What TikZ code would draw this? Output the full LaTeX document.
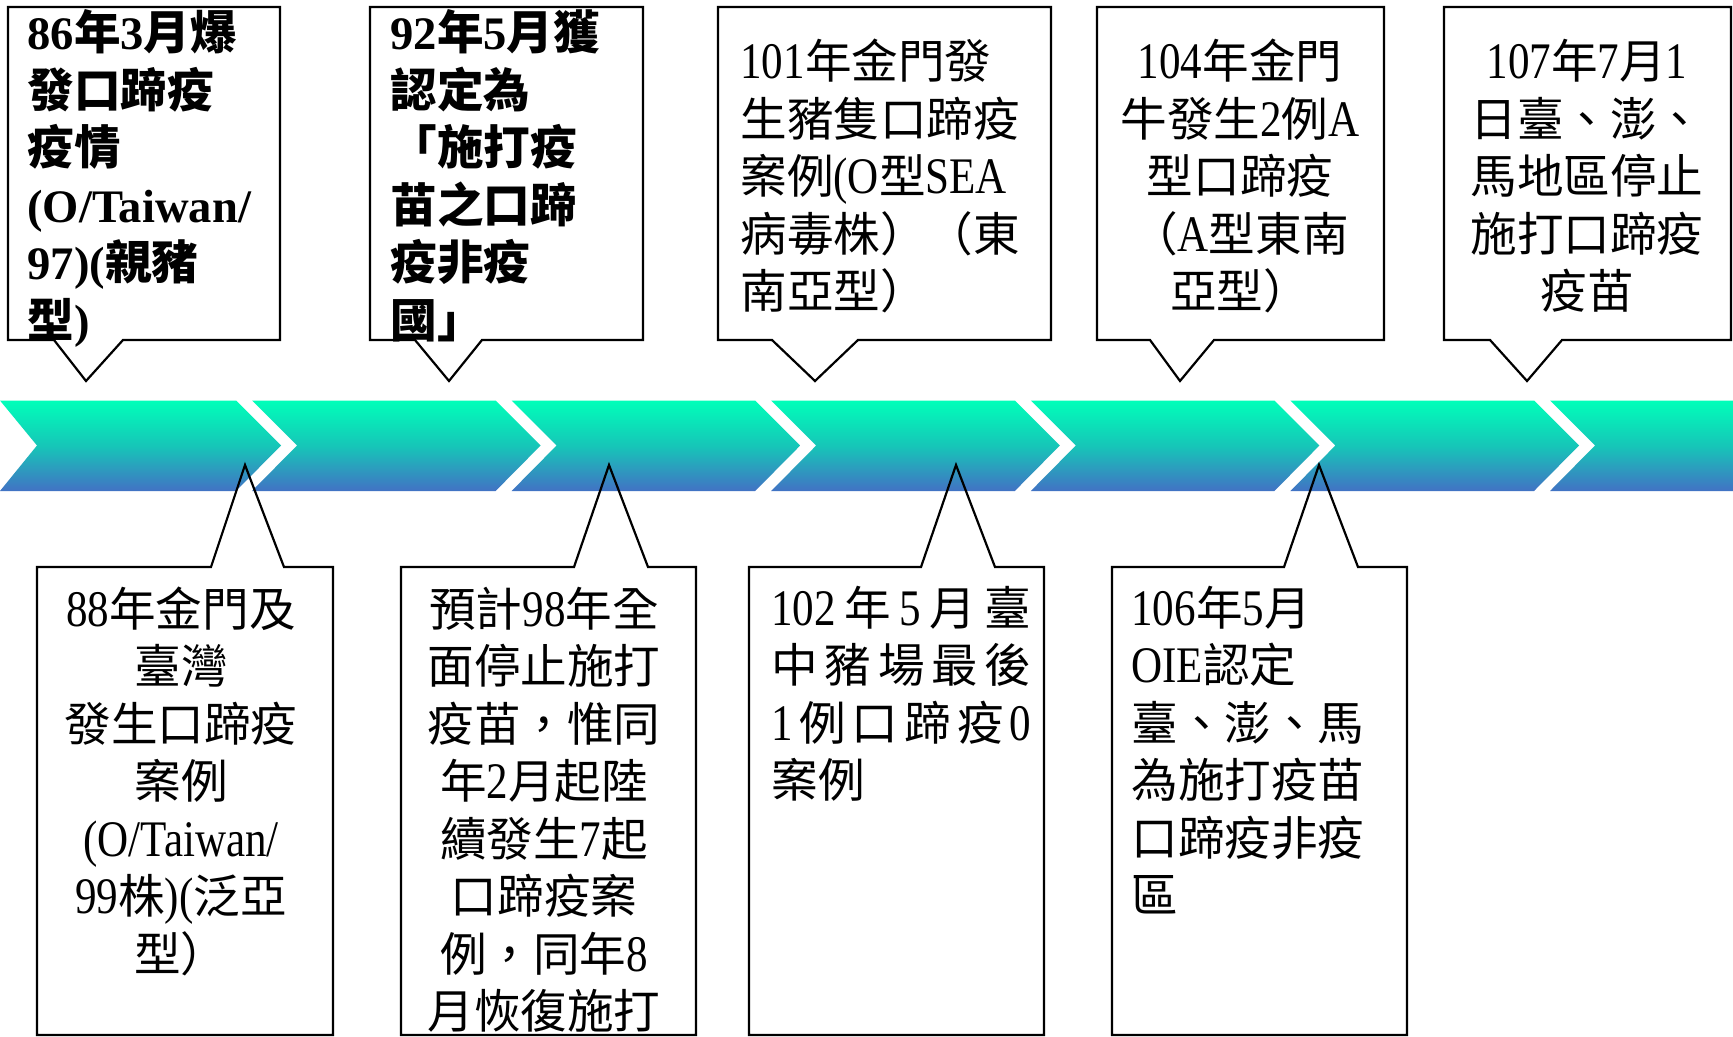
\documentclass[tikz,border=0pt]{standalone}
\usepackage{fontspec}
\newfontfamily\cjk{Noto Sans CJK TC}
\newfontfamily\latfont[Scale=1.1,FakeStretch=0.84]{Liberation Serif}
\newfontfamily\latbfont{Liberation Serif}
\newcommand\latr[1]{{\latfont #1}}
\newcommand\latb[1]{{\latbfont\bfseries #1}}
\definecolor{bandtop}{RGB}{0,255,185}
\definecolor{bandmid}{RGB}{22,198,184}
\definecolor{bandbot}{RGB}{66,114,196}
\tikzset{
  callout/.style={draw=black, line width=1.1pt, line join=miter},
  seg/.style={top color=bandtop, bottom color=bandbot, middle color=bandmid, draw=none},
  txt/.style={inner sep=0pt, text width=150pt, font=\cjk\fontsize{23.3}{28.75}\selectfont},
  txtbold/.style={inner sep=0pt, text width=150pt, font=\cjk\bfseries\fontsize{23.3}{28.75}\selectfont},
  lbox/.style={txt, anchor=base west, align=left},
  lboxb/.style={txtbold, anchor=base west, align=left},
  cbox/.style={txt, anchor=base, align=center}
}
\begin{document}
\begin{tikzpicture}[x=0.5pt,y=-0.5pt]
\useasboundingbox (0,0) rectangle (1733,1037);
\fill[white] (0,0) rectangle (1733,1037);

% timeline band
\path[seg] (0,400.5) -- (236,400.5) -- (281,445.5) -- (236,491) -- (0,491) -- (37,445.5) -- cycle;
\path[seg] (252,400.5) -- (495.6,400.5) -- (540.6,445.5) -- (495.6,491) -- (252,491) -- (297,445.5) -- cycle;
\path[seg] (511.6,400.5) -- (755.2,400.5) -- (800.2,445.5) -- (755.2,491) -- (511.6,491) -- (556.6,445.5) -- cycle;
\path[seg] (771.2,400.5) -- (1014.8,400.5) -- (1059.8,445.5) -- (1014.8,491) -- (771.2,491) -- (816.2,445.5) -- cycle;
\path[seg] (1030.8,400.5) -- (1274.4,400.5) -- (1319.4,445.5) -- (1274.4,491) -- (1030.8,491) -- (1075.8,445.5) -- cycle;
\path[seg] (1290.4,400.5) -- (1534,400.5) -- (1579,445.5) -- (1534,491) -- (1290.4,491) -- (1335.4,445.5) -- cycle;
\path[seg] (1550,400.5) -- (1733,400.5) -- (1733,491) -- (1550,491) -- (1595,445.5) -- cycle;

% top callouts
\draw[callout] (8,7) -- (280,7) -- (280,340) -- (123,340) -- (86,381) -- (54,340) -- (8,340) -- cycle;
\draw[callout] (370,7) -- (643,7) -- (643,340) -- (482,340) -- (449,381) -- (415,340) -- (370,340) -- cycle;
\draw[callout] (718,7) -- (1051,7) -- (1051,340) -- (858,340) -- (815,381) -- (772,340) -- (718,340) -- cycle;
\draw[callout] (1097,7) -- (1384,7) -- (1384,340) -- (1214,340) -- (1180,381) -- (1150,340) -- (1097,340) -- cycle;
\draw[callout] (1444,7) -- (1731,7) -- (1731,340) -- (1562,340) -- (1527,381) -- (1490,340) -- (1444,340) -- cycle;

% bottom callouts
\draw[callout] (37,567) -- (211,567) -- (245,465) -- (284,567) -- (333,567) -- (333,1035) -- (37,1035) -- cycle;
\draw[callout] (401,567) -- (574,567) -- (609,465) -- (648,567) -- (696,567) -- (696,1035) -- (401,1035) -- cycle;
\draw[callout] (749,567) -- (921,567) -- (956,465) -- (995,567) -- (1044,567) -- (1044,1035) -- (749,1035) -- cycle;
\draw[callout] (1112,567) -- (1284,567) -- (1319,465) -- (1358,567) -- (1407,567) -- (1407,1035) -- (1112,1035) -- cycle;

% top texts
\node[lboxb] (t1) at (27,50) {\latb{86}年\latb{3}月爆\\發口蹄疫\\疫情\\\latb{(O/Taiwan/}\\\latb{97)(}親豬\\型\latb{)}};
\node[lboxb] (t2) at (390,50) {\latb{92}年\latb{5}月獲\\認定為\\「施打疫\\苗之口蹄\\疫非疫\\國」};
\node[lbox] (t3) at (740,79) {\latr{101}年金門發\\生豬隻口蹄疫\\案例\latr{(O}型\latr{SEA}\\病毒株）（東\\南亞型）};
\node[cbox] (t4) at (1240,79) {\latr{104}年金門\\牛發生\latr{2}例\latr{A}\\型口蹄疫\\（\latr{A}型東南\\亞型）};
\node[cbox] (t5) at (1587,79) {\latr{107}年\latr{7}月\latr{1}\\日臺、澎、\\馬地區停止\\施打口蹄疫\\疫苗};

% bottom texts
\node[cbox] (b1) at (181,626) {\latr{88}年金門及\\臺灣\\發生口蹄疫\\案例\\\latr{(O/Taiwan/}\\\latr{99}株\latr{)(}泛亞\\型）};
\node[cbox] (b2) at (544,626) {預計\latr{98}年全\\面停止施打\\疫苗，惟同\\年\latr{2}月起陸\\續發生\latr{7}起\\口蹄疫案\\例，同年\latr{8}\\月恢復施打};
\node[lbox] (b3) at (771,625) {\makebox[130pt][s]{\latr{102}\hfil 年\hfil\latr{5}\hfil 月\hfil 臺}\\\makebox[130pt][s]{中\hfil 豬\hfil 場\hfil 最\hfil 後}\\\makebox[130pt][s]{\latr{1}\hfil 例\hfil 口\hfil 蹄\hfil 疫\hfil\latr{0}}\\案例};
\node[lbox] (b4) at (1131,625) {\latr{106}年\latr{5}月\\\latr{OIE}認定\\臺、澎、馬\\為施打疫苗\\口蹄疫非疫\\區};
\end{tikzpicture}
\end{document}
